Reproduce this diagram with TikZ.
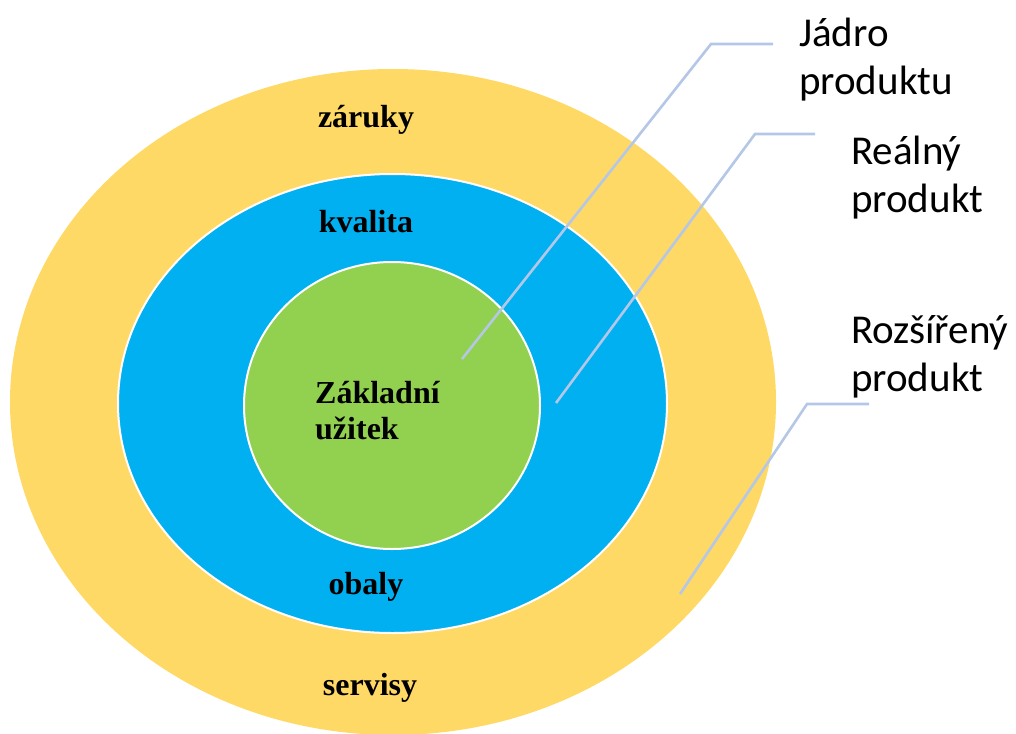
\documentclass[tikz,border=0pt]{standalone}
\usepackage{fontspec}
\newfontfamily\rmtimes{Liberation Serif}
\newfontfamily\calibri{Carlito}
\usetikzlibrary{shapes.geometric}

\definecolor{vrstvaZluta}{HTML}{FFD966}
\definecolor{vrstvaModra}{HTML}{00B0F0}
\definecolor{vrstvaZelena}{HTML}{92D050}
\definecolor{odkaz}{HTML}{B4C7E7}

\begin{document}
\begin{tikzpicture}[x=1pt,y=-1pt,
    ring/.style={ellipse,inner sep=0pt},
    inner text/.style={font=\rmtimes\bfseries\fontsize{32}{36}\selectfont,inner sep=0pt},
    side text/.style={font=\calibri\fontsize{41}{48}\selectfont,align=left,anchor=west,inner sep=0pt},
    callout/.style={draw=odkaz,line width=2.6pt}]
    \useasboundingbox (0,0) rectangle (1016,733);

    % tri vrstvy produktu
    \node[ring,fill=vrstvaZluta,minimum width=766pt,minimum height=666pt] (rozsireny) at (393,402) {};
    \node[ring,fill=vrstvaModra,draw=white,line width=2pt,minimum width=549pt,minimum height=459pt] (realny) at (392.5,403.5) {};
    \node[ring,fill=vrstvaZelena,draw=white,line width=2pt,minimum width=296pt,minimum height=287pt] (jadro) at (392,405.5) {};

    \node[inner text,anchor=base] (zaruky) at (366,128) {záruky};
    \node[inner text,anchor=base] (kvalita) at (366,232) {kvalita};
    \node[inner text,anchor=west,align=left] (uzitek) at (315,411) {Základní\\užitek};
    \node[inner text,anchor=base] (obaly) at (366,594) {obaly};
    \node[inner text,anchor=base] (servisy) at (370,695) {servisy};

    % popisky vpravo
    \node[side text] (jadro popis) at (799,60) {Jádro\\produktu};
    \node[side text] (realny popis) at (851,178) {Reálný\\produkt};
    \node[side text] (rozsireny popis) at (851,357) {Rozšířený\\produkt};

    \coordinate (jadro bod) at (462,359);
    \coordinate (jadro loket) at (711,44);
    \coordinate (jadro konec) at (773,44);
    \coordinate (realny bod) at (556,403);
    \coordinate (realny loket) at (755,134);
    \coordinate (realny konec) at (815,134);
    \coordinate (rozsireny bod) at (680,594);
    \coordinate (rozsireny loket) at (807,404);
    \coordinate (rozsireny konec) at (869,404);

    \draw[callout] (jadro bod) -- (jadro loket) -- (jadro konec);
    \draw[callout] (realny bod) -- (realny loket) -- (realny konec);
    \draw[callout] (rozsireny bod) -- (rozsireny loket) -- (rozsireny konec);
\end{tikzpicture}
\end{document}
